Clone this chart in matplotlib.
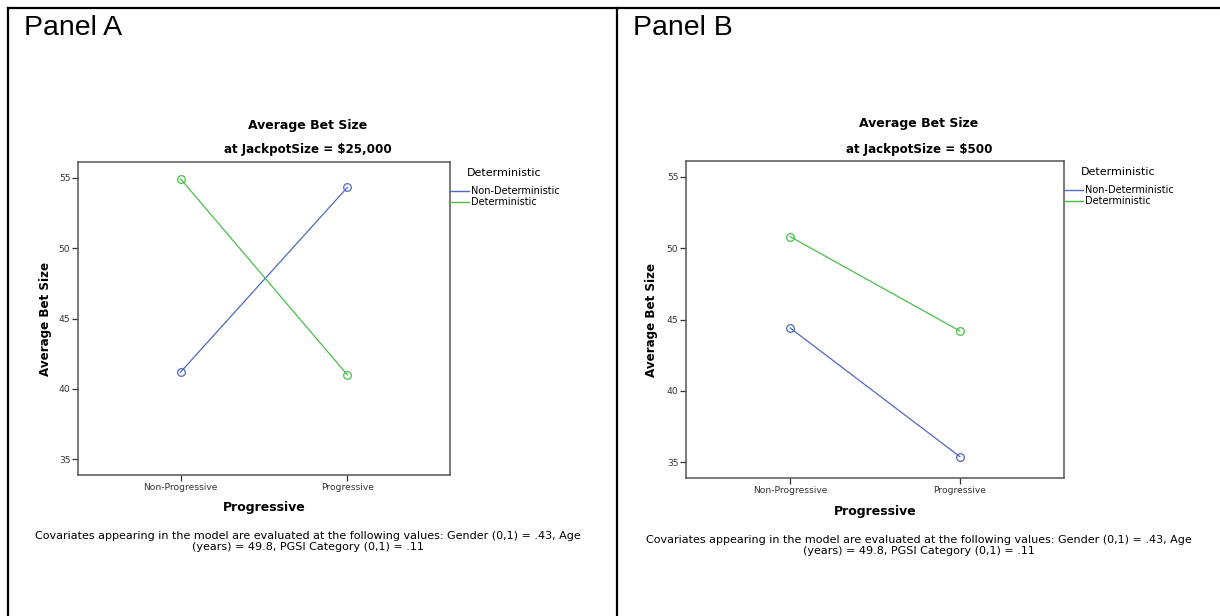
import matplotlib
matplotlib.use("Agg")
import matplotlib.pyplot as plt
from matplotlib.lines import Line2D

# ---- data ----
progressive_levels = ["Non-Progressive", "Progressive"]
series_names = ["Non-Deterministic", "Deterministic"]
panel_a_nondet = [41.2, 54.3]
panel_a_det = [54.9, 41.0]
panel_b_nondet = [44.4, 35.4]
panel_b_det = [50.8, 44.2]
y_ticks = [35, 40, 45, 50, 55]
panel_labels = ["Panel A", "Panel B"]
titles = [["Average Bet Size", "at JackpotSize = $25,000"],
          ["Average Bet Size", "at JackpotSize = $500"]]
caption = ["Covariates appearing in the model are evaluated at the following values: Gender (0,1) = .43, Age",
           "(years) = 49.8, PGSI Category (0,1) = .11"]

W, H = 1220, 616
fig = plt.figure(figsize=(W / 100, H / 100), dpi=100)
plt.rcParams['font.family'] = ['DejaVu Sans']

BLUE = "#5068c0"
GREEN = "#48c048"


def fx(px):
    return px / W


def fy(py):
    return 1 - py / H


# outer table borders
for (x0, y0, x1, y1) in [(8, 8, 1222, 8), (8, 8, 8, 620), (617, 8, 617, 620)]:
    fig.add_artist(Line2D([fx(x0), fx(x1)], [fy(y0), fy(y1)], color="black", lw=1.6,
                          transform=fig.transFigure))

panels = [
    dict(label_x=24, ax=(78, 162, 450, 475), nondet=panel_a_nondet, det=panel_a_det,
         tcx=308, ty1=125, ty2=150, ylx=45, xlab_y=508, cap_y=536, cap_x=308,
         leg_x=450, leg_ty=173, leg_y=191),
    dict(label_x=633, ax=(686, 161, 1064, 478), nondet=panel_b_nondet, det=panel_b_det,
         tcx=919, ty1=124, ty2=149, ylx=652, xlab_y=512, cap_y=540, cap_x=919,
         leg_x=1064, leg_ty=172, leg_y=190),
]

for i, p in enumerate(panels):
    fig.text(fx(p["label_x"]), fy(28), panel_labels[i], family="Liberation Sans",
             fontsize=20.5, va="center", ha="left")
    l, t, r, b = p["ax"]
    ax = fig.add_axes([fx(l), fy(b), fx(r - l), (b - t) / H])
    x = list(range(len(progressive_levels)))
    ax.plot(x, p["nondet"], color=BLUE, lw=0.9, marker="o", ms=5.5, mfc="none",
            mec=BLUE, mew=0.9, label=series_names[0])
    ax.plot(x, p["det"], color=GREEN, lw=0.9, marker="o", ms=5.5, mfc="none",
            mec=GREEN, mew=0.9, label=series_names[1])
    ax.set_xlim(-0.615, 1.615)
    ax.set_ylim(33.9, 56.1)
    ax.set_yticks(y_ticks)
    ax.set_yticklabels([str(v) for v in y_ticks])
    ax.set_xticks(x)
    ax.set_xticklabels(progressive_levels)
    ax.tick_params(axis="both", labelsize=6.6, colors="#333333", length=4, width=0.9,
                   pad=1.5)
    for s in ax.spines.values():
        s.set_color("#555555")
        s.set_linewidth(1.1)
    # titles
    fig.text(fx(p["tcx"]), fy(p["ty1"]), titles[i][0], ha="center", va="center",
             fontsize=9, fontweight="bold")
    fig.text(fx(p["tcx"]), fy(p["ty2"]), titles[i][1], ha="center", va="center",
             fontsize=8.6, fontweight="bold")
    # axis labels
    fig.text(fx(p["ylx"]), fy((t + b) / 2), "Average Bet Size", rotation=90,
             ha="center", va="center", fontsize=8.6, fontweight="bold")
    fig.text(fx((l + r) / 2), fy(p["xlab_y"]), "Progressive", ha="center",
             va="center", fontsize=9, fontweight="bold")
    # caption
    fig.text(fx(p["cap_x"]), fy(p["cap_y"]), caption[0], ha="center", va="center",
             fontsize=8)
    fig.text(fx(p["cap_x"]), fy(p["cap_y"] + 11), caption[1], ha="center", va="center",
             fontsize=8)
    # legend
    lx = p["leg_x"]
    fig.text(fx(lx + 17), fy(p["leg_ty"]), "Deterministic", ha="left", va="center",
             fontsize=8)
    for k, (name, col) in enumerate(zip(series_names, [BLUE, GREEN])):
        yy = p["leg_y"] + 11 * k
        fig.add_artist(Line2D([fx(lx), fx(lx + 19)], [fy(yy), fy(yy)], color=col, lw=1.0,
                              transform=fig.transFigure))
        fig.text(fx(lx + 21), fy(yy), name, ha="left", va="center", fontsize=7)

fig.savefig("out.png", dpi=100)
